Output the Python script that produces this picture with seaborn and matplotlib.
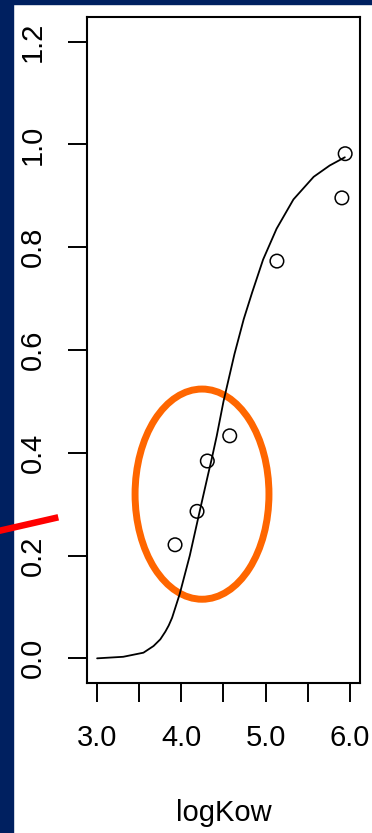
import numpy as np
import pandas as pd
import matplotlib
matplotlib.use("Agg")
import matplotlib.pyplot as plt
import seaborn as sns
from matplotlib.patches import Ellipse, Rectangle
from matplotlib.lines import Line2D

# observed points
log_kow = [3.925, 4.186, 4.308, 4.574, 5.134, 5.905, 5.944]
frac = [0.221, 0.286, 0.384, 0.433, 0.773, 0.896, 0.982]

# fitted curve
curve_x = [3.00, 3.31, 3.55, 3.67, 3.75, 3.81, 3.85, 3.89, 3.98, 4.10, 4.22, 4.32, 4.36,
           4.42, 4.50, 4.63, 4.74, 4.84, 4.97, 5.13, 5.33, 5.57, 5.76, 5.94]
curve_y = [0.000, 0.003, 0.011, 0.024, 0.037, 0.052, 0.064, 0.079, 0.125, 0.200, 0.288, 0.360, 0.388,
           0.433, 0.500, 0.592, 0.660, 0.712, 0.776, 0.836, 0.893, 0.937, 0.959, 0.975]

x_ticks = [3.0, 3.5, 4.0, 4.5, 5.0, 5.5, 6.0]
x_labels = ['3.0', '', '4.0', '', '5.0', '', '6.0']
y_ticks = [0.0, 0.2, 0.4, 0.6, 0.8, 1.0, 1.2]
y_labels = ['0.0', '0.2', '0.4', '0.6', '0.8', '1.0', '1.2']

pts = pd.DataFrame({'logKow': log_kow, 'frac': frac})
fit = pd.DataFrame({'logKow': curve_x, 'frac': curve_y})

sns.set_theme(style='white')
plt.rcParams['font.family'] = ['Liberation Sans', 'DejaVu Sans']

fig = plt.figure(figsize=(3.72, 8.33), dpi=100)
fig.patch.set_facecolor('white')
navy = '#002060'
fig.patches.append(Rectangle((0, 0), 13 / 372, 1, transform=fig.transFigure, color=navy, zorder=0))
fig.patches.append(Rectangle((0, 1 - 4 / 833), 1, 4 / 833, transform=fig.transFigure, color=navy, zorder=0))

ax = fig.add_axes([87 / 372, 150 / 833, 273 / 372, 666 / 833])
ax.set_facecolor('white')

ax.add_patch(Ellipse((4.245, 0.3195), 1.589, 0.409, fill=False, ec='#FF6600', lw=5, zorder=1))
sns.lineplot(data=fit, x='logKow', y='frac', estimator=None, sort=False, color='black', lw=1.3, ax=ax, zorder=2)
sns.scatterplot(data=pts, x='logKow', y='frac', marker='o', s=95, facecolors='none',
                edgecolor='black', linewidth=1.1, ax=ax, zorder=3)

ax.set_xlim(2.88, 6.12)
ax.set_ylim(-0.048, 1.248)
ax.set_xticks(x_ticks)
ax.set_xticklabels(x_labels)
ax.set_yticks(y_ticks)
ax.set_yticklabels(y_labels)
ax.tick_params(axis='both', direction='out', length=13.5, width=1.4, color='black',
               labelsize=21, labelcolor='black', left=True, bottom=True)
ax.tick_params(axis='x', pad=16)
ax.tick_params(axis='y', pad=15.5, labelrotation=90)
for lab in ax.get_yticklabels():
    lab.set_va('center')
for sp in ax.spines.values():
    sp.set_visible(True)
    sp.set_color('black')
    sp.set_linewidth(1.5)
ax.set_xlabel('logKow', fontsize=21, color='black', labelpad=34)
ax.set_ylabel('')
ax.grid(False)

# red pointer line sticking in from the left edge
fig.lines.append(Line2D([-0.01, 58.3 / 372], [301.5 / 833, 315.7 / 833], transform=fig.transFigure,
                        color='#FF0000', lw=4.7, solid_capstyle='butt', zorder=5))

fig.savefig('out.png', dpi=100, facecolor='white')
